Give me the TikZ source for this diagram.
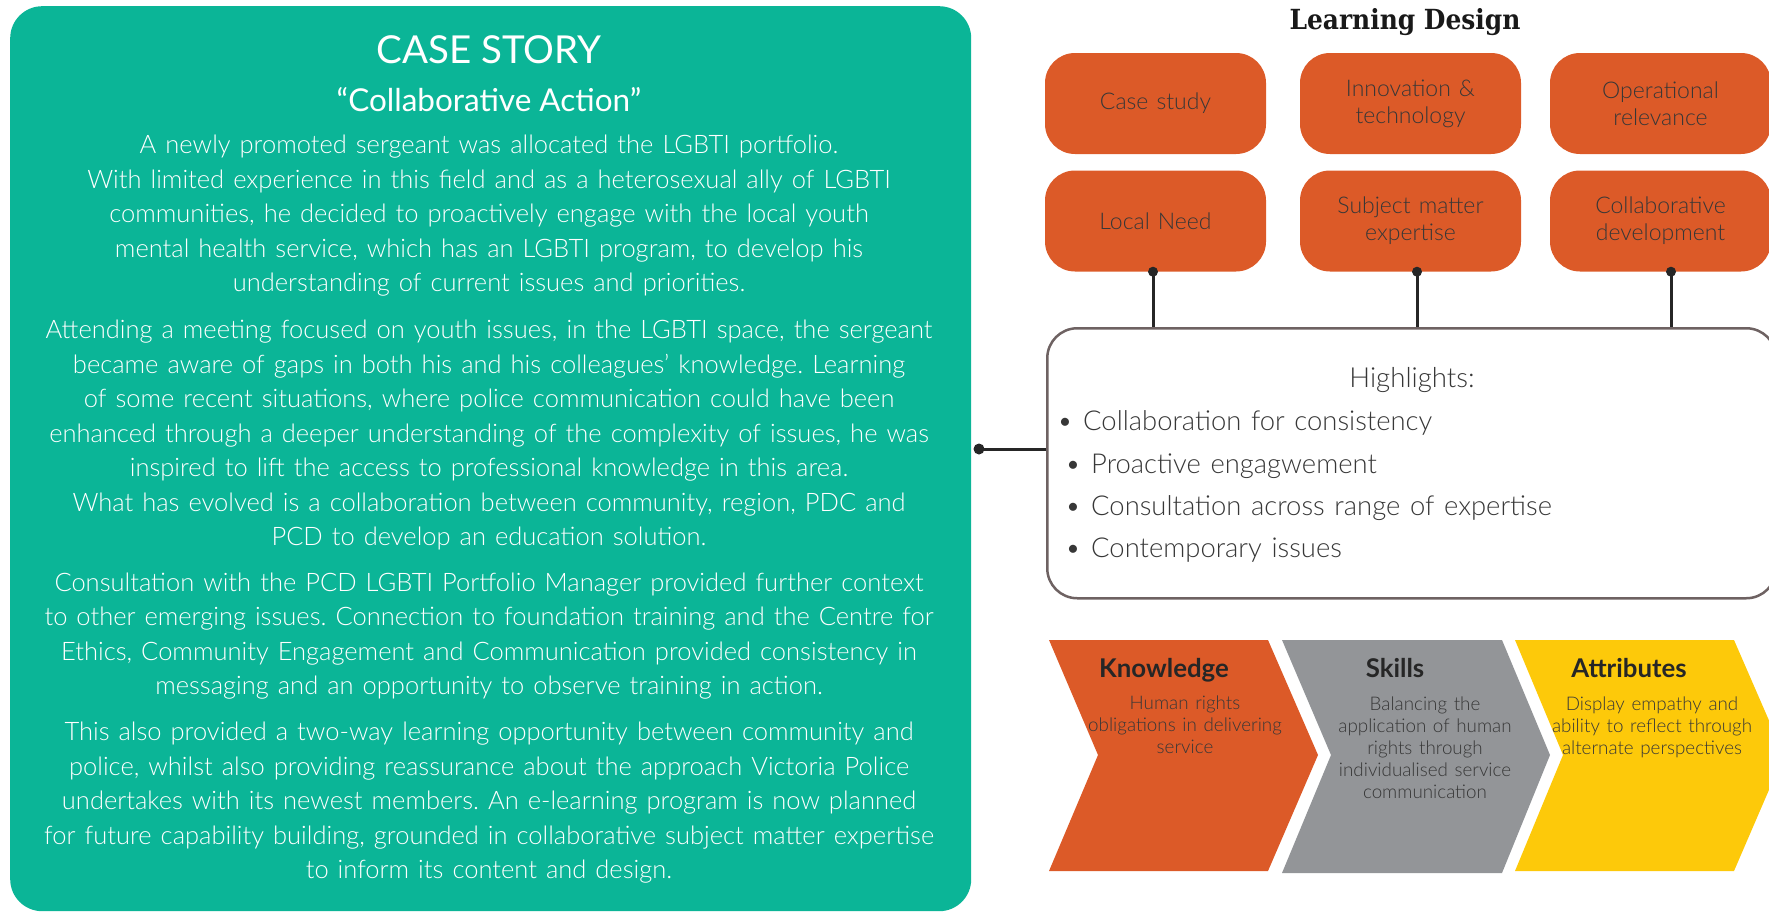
\documentclass[tikz,border=0pt]{standalone}
\usepackage{fontspec}
\setmainfont{Lato}[UprightFont=* Light, BoldFont=* Bold, WordSpace=1.3]
\newfontfamily\latoreg{Lato}
\newfontfamily\slabfont{DejaVu Serif Condensed}
\definecolor{caseGreen}{RGB}{11,181,151}
\definecolor{ldOrange}{RGB}{220,90,40}
\definecolor{skillGrey}{RGB}{147,149,152}
\definecolor{attrYellow}{RGB}{253,201,10}
\definecolor{hlBorder}{RGB}{110,98,98}
\definecolor{inkDark}{RGB}{55,55,55}
\usetikzlibrary{positioning, calc}
\frenchspacing

\begin{document}
\begin{tikzpicture}[x=1pt, y=-1pt,
  storytext/.style={text=white, align=center, inner sep=0pt, font=\fontsize{25.5}{34.5}\selectfont},
  ldbox/.style={fill=ldOrange, rounded corners=30pt, minimum width=221pt, minimum height=101pt,
    inner sep=0pt, align=center, text=inkDark, font=\fontsize{23}{27}\selectfont},
  hlitem/.style={anchor=base west, inner sep=0pt, text=inkDark, font=\fontsize{27.4}{30}\selectfont},
  chevhead/.style={anchor=base, inner sep=0pt, text=black!85, font=\bfseries\fontsize{25.8}{28}\selectfont},
  chevtext/.style={align=center, inner sep=0pt, text=inkDark, font=\fontsize{18.8}{22}\selectfont},
  pin/.style={line width=3pt, draw=black!85}]
\useasboundingbox (0,0) rectangle (1769,913);
\clip (0,0) rectangle (1769,913);

% case story panel
\node[fill=caseGreen, rounded corners=32pt, minimum width=961pt, minimum height=905pt,
  anchor=north west, inner sep=0pt] (story) at (10,6) {};
\node[text=white, inner sep=0pt, font=\latoreg\fontsize{38.5}{40}\selectfont] (casetitle) at (489,50) {CASE STORY};
\node[text=white, inner sep=0pt, font=\latoreg\fontsize{31.5}{33}\selectfont] (caseaction) at (489,100) {“Collaborative Action”};
\node[storytext] (para1) at (489,216) {A newly promoted sergeant was allocated the LGBTI portfolio.\\
  With limited experience in this field and as a heterosexual ally of LGBTI\\
  communities, he decided to proactively engage with the local youth\\
  mental health service, which has an LGBTI program, to develop his\\
  understanding of current issues and priorities.};
\node[storytext] (para2) at (489,435) {Attending a meeting focused on youth issues, in the LGBTI space, the sergeant\\
  became aware of gaps in both his and his colleagues’ knowledge. Learning\\
  of some recent situations, where police communication could have been\\
  enhanced through a deeper understanding of the complexity of issues, he was\\
  inspired to lift the access to professional knowledge in this area.\\
  What has evolved is a collaboration between community, region, PDC and\\
  PCD to develop an education solution.};
\node[storytext] (para3) at (489,636) {Consultation with the PCD LGBTI Portfolio Manager provided further context\\
  to other emerging issues. Connection to foundation training and the Centre for\\
  Ethics, Community Engagement and Communication provided consistency in\\
  messaging and an opportunity to observe training in action.};
\node[storytext] (para4) at (489,803) {This also provided a two-way learning opportunity between community and\\
  police, whilst also providing reassurance about the approach Victoria Police\\
  undertakes with its newest members. An e-learning program is now planned\\
  for future capability building, grounded in collaborative subject matter expertise\\
  to inform its content and design.};

% learning design
\node[anchor=base, inner sep=0pt, text=black!90, font=\slabfont\bfseries\fontsize{27.7}{30}\selectfont] (ldtitle) at (1405,29) {Learning Design};
\node[ldbox] (casestudy) at (1155.5,103.5) {Case study};
\node[ldbox] (innovation) at (1410.5,103.5) {Innovation \&\\technology};
\node[ldbox] (operational) at (1660.5,103.5) {Operational\\relevance};
\node[ldbox] (localneed) at (1155.5,221) {Local Need};
\node[ldbox] (subject) at (1410.5,221) {Subject matter\\expertise};
\node[ldbox] (collab) at (1660.5,221) {Collaborative\\development};

% highlights
\node[draw=hlBorder, line width=2.5pt, rounded corners=30pt, fill=white, minimum width=729pt,
  minimum height=270pt, anchor=north west, inner sep=0pt] (hl) at (1046,327) {};
\foreach \b/\dx in {localneed/-2.5, subject/6.5, collab/10.5} {
  \draw[pin] ([xshift=\dx pt]\b.south) -- ([xshift=\dx pt]\b.south |- hl.north);
  \fill[black!85] ([xshift=\dx pt]\b.south) circle (5pt);
}
\coordinate (storylink) at (979,449);
\draw[pin] (storylink) -- (storylink -| hl.west);
\fill[black!85] (storylink) circle (5.5pt);

\node[inner sep=0pt, text=inkDark, font=\fontsize{27.6}{30}\selectfont] (hltitle) at (1412,380) {Highlights:};
\node[hlitem] (hl1) at (1057,430) {\makebox[26pt][l]{\textbullet}Collaboration for consistency};
\node[hlitem] (hl2) at (1065,473) {\makebox[26pt][l]{\textbullet}Proactive engagwement};
\node[hlitem] (hl3) at (1065,515) {\makebox[26pt][l]{\textbullet}Consultation across range of expertise};
\node[hlitem] (hl4) at (1065,557) {\makebox[26pt][l]{\textbullet}Contemporary issues};

% chevrons
\fill[ldOrange] (1049,640) -- (1268,640) -- (1318,755) -- (1268,871) -- (1049,871) -- (1098,755) -- cycle;
\fill[skillGrey] (1282,640) -- (1502,640) -- (1550,755) -- (1502,873) -- (1282,873) -- (1331,755) -- cycle;
\fill[attrYellow] (1515,640) -- (1734,640) -- (1784,755) -- (1734,871) -- (1515,871) -- (1563,755) -- cycle;

\node[chevhead] (know) at (1164,677) {Knowledge};
\node[chevhead] (skills) at (1395,677) {Skills};
\node[chevhead] (attr) at (1629,677) {Attributes};
\node[chevtext] (knowtext) at (1185,725) {Human rights\\obligations in delivering\\service};
\node[chevtext] (skilltext) at (1425,747.5) {Balancing the\\application of human\\rights through\\individualised service\\communication};
\node[chevtext] (attrtext) at (1652,727) {Display empathy and\\ability to reflect through\\alternate perspectives};
\end{tikzpicture}
\end{document}
